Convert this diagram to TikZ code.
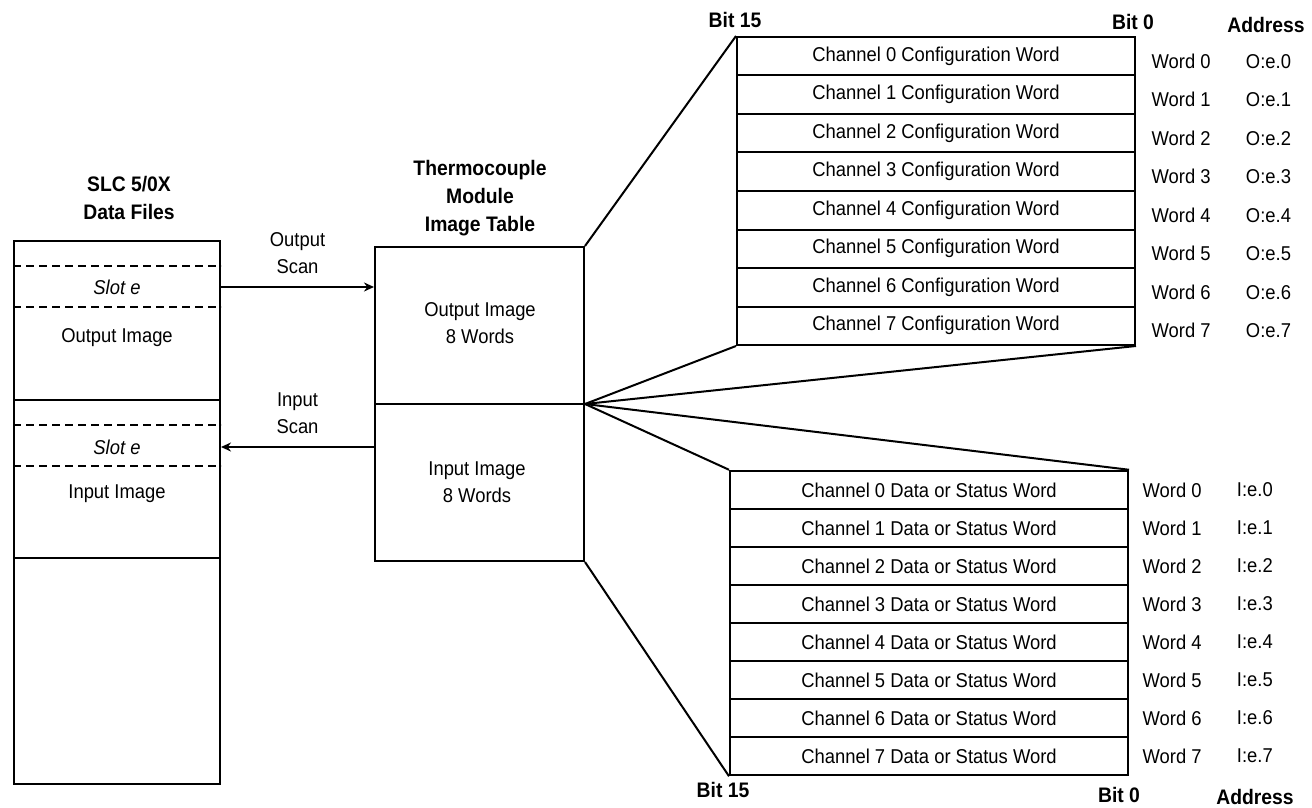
\documentclass[tikz,border=0pt]{standalone}
\usepackage{fontspec}
\setmainfont{Liberation Sans}[FakeStretch=0.92]
\usetikzlibrary{positioning,arrows.meta,fit}

\begin{document}
\begin{tikzpicture}[
  x=0.5pt, y=-0.5pt, line width=1pt,
  font=\fontsize{10}{13.5}\selectfont, >={Stealth[length=5pt,width=4.5pt]},
  blk/.style={draw, inner sep=0pt},
  row/.style={draw, minimum width=199pt, minimum height=19.25pt, inner sep=0pt},
  ttl/.style={align=center, font=\fontsize{10.5}{14}\selectfont\bfseries},
  lbl/.style={align=center},
  slot/.style={dash pattern=on 4pt off 2.5pt, line width=0.9pt},
]
\useasboundingbox (0,0) rectangle (1312,808);

% data files
\node[blk, fit={(14,241) (220,784)}] (files) {};
\node[ttl] (filesttl) at (129,198) {SLC 5/0X\\Data Files};
\node[font=\itshape] (slotout) at (117,287) {Slot e};
\node (outimg) at (117,338) {Output Image};
\node[font=\itshape] (slotin) at (117,447) {Slot e};
\node (inimg) at (117,494) {Input Image};
\draw[slot] (files.west |- 0,266) -- (files.east |- 0,266);
\draw[slot] (files.west |- 0,307) -- (files.east |- 0,307);
\draw (files.west |- 0,400) -- (files.east |- 0,400);
\draw[slot] (files.west |- 0,425) -- (files.east |- 0,425);
\draw[slot] (files.west |- 0,466) -- (files.east |- 0,466);
\draw (files.west |- 0,558) -- (files.east |- 0,558);

% module image table
\node[blk, fit={(375,247) (584,561)}] (table) {};
\draw (table.west) -- (table.east);
\node[ttl] (tablettl) at (480,198) {Thermocouple\\Module\\Image Table};
\node[lbl] (tout) at (480,323) {Output Image\\8 Words};
\node[lbl] (tin) at (477,482) {Input Image\\8 Words};

% scans
\draw[->] (slotout -| files.east) -- node[lbl, above=3pt]{Output\\Scan} (slotout -| table.west);
\draw[->] (slotin -| table.west) -- node[lbl, above=3pt]{Input\\Scan} (slotin -| files.east);

% output words
\node[ttl] (obit15) at (735,20) {Bit 15};
\node[ttl] (obit0) at (1133,22) {Bit 0};
\node[ttl] (oaddr) at (1266,25) {Address};
\foreach \i in {0,...,7} {
  \node[row] (cfg\i) at (936,{37+38.5*(\i+0.5)}) {Channel \i\ Configuration Word};
  \node[right=4pt of cfg\i, yshift=-2.5pt] (cw\i) {Word \i};
  \node[right=10pt of cw\i] (ca\i) {O:e.\i};
}

% input words
\foreach \i in {0,...,7} {
  \node[row] (dat\i) at (929,{471+38*(\i+0.5)}) {Channel \i\ Data or Status Word};
  \node[right=3pt of dat\i] (dw\i) {Word \i};
  \node[right=10pt of dw\i] (da\i) {I:e.\i};
}
\node[ttl] (ibit15) at (723,790) {Bit 15};
\node[ttl] (ibit0) at (1119,795) {Bit 0};
\node[ttl] (iaddr) at (1255,797) {Address};

% fan out
\draw (table.north east) -- (cfg0.north west);
\draw (table.east) -- (cfg7.south west);
\draw (table.east) -- (cfg7.south east);
\draw (table.east) -- (dat0.north west);
\draw (table.east) -- (dat0.north east);
\draw (table.south east) -- (dat7.south west);
\end{tikzpicture}
\end{document}
